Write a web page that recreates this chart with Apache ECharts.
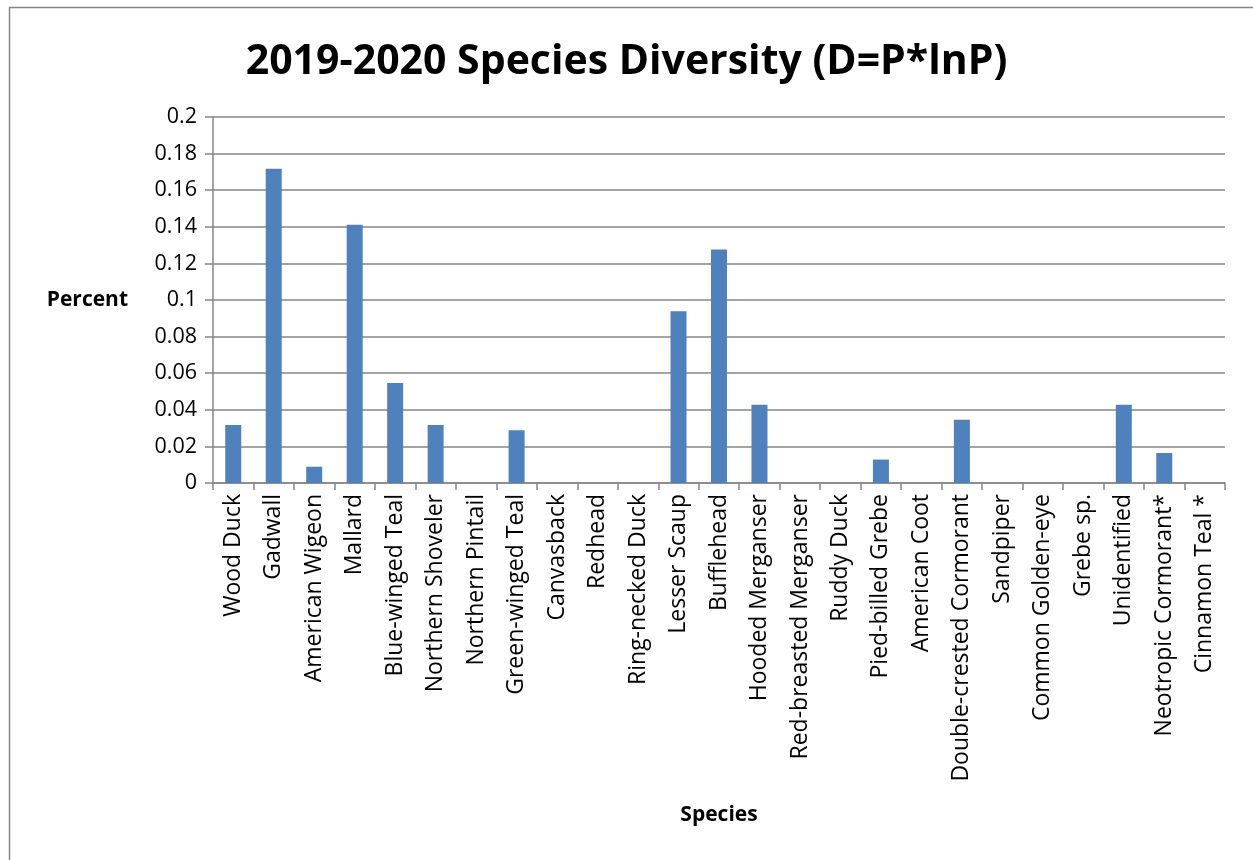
<!DOCTYPE html>
<html>
<head>
<meta charset="utf-8">
<script src="https://cdn.jsdelivr.net/npm/echarts@6/dist/echarts.min.js"></script>
<style>
  html, body { margin: 0; padding: 0; background: #fff; }
  #chart { width: 1253px; height: 860px; }
</style>
</head>
<body>
<div id="chart"></div>
<script>
  // 数据
  const species = [
    'Wood Duck', 'Gadwall', 'American Wigeon', 'Mallard', 'Blue-winged Teal',
    'Northern Shoveler', 'Northern Pintail', 'Green-winged Teal', 'Canvasback',
    'Redhead', 'Ring-necked Duck', 'Lesser Scaup', 'Bufflehead', 'Hooded Merganser',
    'Red-breasted Merganser', 'Ruddy Duck', 'Pied-billed Grebe', 'American Coot',
    'Double-crested Cormorant', 'Sandpiper', 'Common Golden-eye', 'Grebe sp.',
    'Unidentified', 'Neotropic Cormorant*', 'Cinnamon Teal *'
  ];
  const diversity = [
    0.0317, 0.1717, 0.0089, 0.1411, 0.0547,
    0.0317, 0, 0.0288, 0,
    0, 0, 0.0939, 0.1276, 0.0427,
    0, 0, 0.0128, 0,
    0.0345, 0, 0, 0,
    0.0427, 0.0164, 0
  ];
  const yTicks = [0, 0.02, 0.04, 0.06, 0.08, 0.1, 0.12, 0.14, 0.16, 0.18, 0.2];
</script>
<script>
  const chartDom = document.getElementById('chart');
  const myChart = echarts.init(chartDom);
  const gridGray = '#868686';
  const labelFont = '"Open Sans", sans-serif';

  const option = {
    animation: false,
    title: {
      text: '2019-2020 Species Diversity (D=P*lnP)',
      left: 'center',
      top: 37,
      textStyle: {
        fontFamily: labelFont,
        fontSize: 41,
        fontWeight: 'bold',
        color: '#000'
      }
    },
    graphic: [{
      type: 'rect',
      left: 7,
      top: 5,
      shape: { width: 1260, height: 870 },
      style: { fill: 'none', stroke: gridGray, lineWidth: 1.5 }
    }],
    grid: {
      left: 213,
      right: 28,
      top: 117,
      bottom: 377
    },
    xAxis: {
      type: 'category',
      data: species,
      name: 'Species',
      nameLocation: 'middle',
      nameGap: 322,
      nameTextStyle: {
        fontFamily: labelFont,
        fontSize: 21,
        fontWeight: 'bold',
        color: '#000'
      },
      axisLine: { lineStyle: { color: gridGray, width: 1.5 } },
      axisTick: { show: true, length: 7, lineStyle: { color: gridGray, width: 1.5 } },
      axisLabel: {
        interval: 0,
        rotate: 90,
        margin: 11,
        fontFamily: labelFont,
        fontSize: 23,
        color: '#000'
      }
    },
    yAxis: {
      type: 'value',
      min: 0,
      max: 0.2,
      interval: 0.02,
      name: 'Percent',
      nameLocation: 'middle',
      nameRotate: 0,
      nameGap: 85,
      nameTextStyle: {
        fontFamily: labelFont,
        fontSize: 21,
        fontWeight: 'bold',
        color: '#000'
      },
      axisLine: { show: true, lineStyle: { color: gridGray, width: 1.5 } },
      axisTick: { show: true, length: 8, lineStyle: { color: gridGray, width: 1.5 } },
      splitLine: { show: true, lineStyle: { color: gridGray, width: 1.5 } },
      axisLabel: {
        margin: 16,
        fontFamily: labelFont,
        fontSize: 21.5,
        color: '#000',
        formatter: function (v) {
          const hit = yTicks.find(t => Math.abs(t - v) < 1e-9);
          return hit === undefined ? '' : String(hit);
        }
      }
    },
    series: [{
      type: 'bar',
      data: diversity,
      barWidth: 16,
      itemStyle: { color: '#4F81BD' }
    }]
  };

  myChart.setOption(option);
</script>
</body>
</html>
